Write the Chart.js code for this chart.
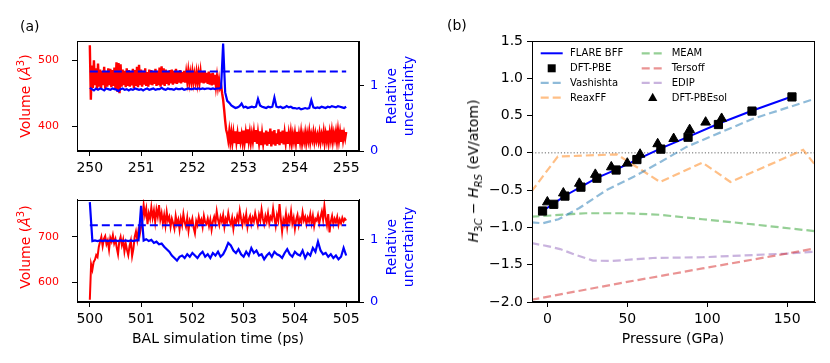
<!DOCTYPE html>
<html>
<head>
<meta charset="utf-8">
<script src="https://cdn.jsdelivr.net/npm/chart.js@4"></script>
<style>
  body { margin: 0; background: #fff; }
  #fig { position: relative; width: 830px; height: 363px; font-family: "DejaVu Sans", sans-serif; overflow: hidden; }
  canvas { position: absolute; }
  .lbl { position: absolute; white-space: nowrap; font-size: 14px; line-height: 1; }
  .rot { transform: translate(-50%, -50%) rotate(-90deg); text-align: center; }
  .mid { transform: translate(-50%, -50%); }
  sup, sub { line-height: 0; }
</style>
</head>
<body>
<div id="fig">
  <canvas id="cTop" width="420" height="180" style="left:0;top:0"></canvas>
  <canvas id="cBottom" width="420" height="183" style="left:0;top:180px"></canvas>
  <canvas id="cRight" width="410" height="363" style="left:420px;top:0"></canvas>

  <div class="lbl" style="left:20px;top:19px">(a)</div>
  <div class="lbl" style="left:447px;top:18px">(b)</div>

  <div class="lbl rot" style="left:25px;top:96px;color:#ff0000">Volume (<i>Å</i><sup style="font-size:10px">3</sup>)</div>
  <div class="lbl rot" style="left:399px;top:96px;color:#0000ff;line-height:16.5px">Relative<br>uncertainty</div>
  <div class="lbl rot" style="left:25px;top:247px;color:#ff0000">Volume (<i>Å</i><sup style="font-size:10px">3</sup>)</div>
  <div class="lbl rot" style="left:399px;top:247px;color:#0000ff;line-height:16.5px">Relative<br>uncertainty</div>
  <div class="lbl mid" style="left:218px;top:338px">BAL simulation time (ps)</div>

  <div class="lbl rot" style="left:473px;top:171px"><i>H</i><sub style="font-size:10px">3<i>C</i></sub> − <i>H</i><sub style="font-size:10px"><i>RS</i></sub> (eV/atom)</div>
  <div class="lbl mid" style="left:673px;top:338px">Pressure (GPa)</div>
</div>

<script>
const FONT = '"DejaVu Sans", sans-serif';

// ---- panel (a), top: 250-255 ps ----
const topStart = 250;
const topVolumeStep = 0.02;
const topVolume = [
  523, 440, 492, 458, 500, 462, 488, 455, 495, 460, 486, 458, 484, 462, 490, 457, 482, 460, 488, 462,
  487, 459, 485, 461, 489, 456, 497, 452, 496, 450, 494, 460, 486, 462, 484, 459, 488, 461, 485, 460,
  483, 462, 487, 458, 485, 461, 490, 459, 493, 462, 486, 460, 484, 463, 488, 461, 482, 460, 486, 463,
  485, 462, 483, 464, 487, 461, 484, 462, 489, 460, 491, 463, 488, 461, 486, 464, 483, 462, 485, 465,
  486, 463, 484, 465, 487, 464, 483, 466, 485, 465, 482, 467, 484, 466, 481, 468, 483, 467, 480, 468,
  482, 467, 479, 468, 481, 466, 480, 467, 482, 466, 483, 465, 484, 466, 481, 464, 483, 463, 480, 462,
  481, 463, 478, 461, 475, 460, 471, 458, 462, 450, 440, 425, 408, 394, 388, 378, 392, 376, 390, 375,
  389, 374, 392, 376, 388, 373, 391, 377, 387, 375, 393, 376, 389, 374, 395, 378, 390, 375, 388, 377,
  391, 376, 394, 373, 389, 375, 392, 371, 388, 374, 390, 372, 393, 370, 391, 373, 396, 369, 392, 372,
  394, 370, 389, 373, 395, 371, 391, 374, 393, 372, 389, 375, 391, 373, 388, 376, 390, 374, 387, 377,
  389, 375, 391, 373, 387, 376, 390, 374, 386, 377, 389, 375, 388, 378, 391, 376, 387, 379, 390, 377,
  388, 378, 386, 377, 389, 376, 387, 379, 391, 375, 388, 378, 393, 376, 390, 379, 392, 377, 389, 380,
  391, 377, 393, 378, 390, 376, 394, 379, 389, 381, 391
];
const topUncStep = 0.04;
const topUncertainty = [
  0.97, 0.95, 0.93, 0.96, 0.94, 0.96, 0.95, 0.93, 0.96, 0.95,
  0.94, 0.96, 0.95, 0.94, 0.92, 0.95, 0.96, 0.94, 0.95, 0.93,
  0.95, 0.94, 0.96, 0.95, 0.94, 0.95, 0.93, 0.95, 0.96, 0.94,
  0.95, 0.96, 0.94, 0.95, 0.95, 0.97, 0.95, 0.94, 0.96, 0.95,
  0.95, 0.94, 0.96, 0.95, 0.95, 0.96, 0.94, 0.95, 0.96, 0.95,
  0.95, 0.96, 0.95, 0.96, 0.95, 0.96, 0.95, 0.96, 0.96, 0.95,
  0.96, 0.95, 0.96, 0.96, 0.97, 1.65, 0.90, 0.77, 0.74, 0.70,
  0.68, 0.66, 0.67, 0.69, 0.73, 0.67, 0.68, 0.66, 0.67, 0.68,
  0.67, 0.68, 0.80, 0.70, 0.68, 0.67, 0.66, 0.68, 0.67, 0.68,
  0.82, 0.68, 0.67, 0.68, 0.66, 0.67, 0.69, 0.67, 0.68, 0.66,
  0.66, 0.65, 0.66, 0.64, 0.65, 0.66, 0.65, 0.66, 0.78, 0.67,
  0.66, 0.67, 0.66, 0.68, 0.67, 0.66, 0.68, 0.67, 0.69, 0.68,
  0.67, 0.69, 0.68, 0.67, 0.66, 0.68
];
const topThreshold = 1.22;
const topTimeTicks = [250, 251, 252, 253, 254, 255];
const topVolumeTicks = [400, 500];

// ---- panel (a), bottom: 500-505 ps ----
const bottomStart = 500;
const bottomVolumeStep = 0.025;
const bottomVolume = [
  562, 640, 628, 645, 650, 660, 656, 678, 690, 700, 680, 696, 702, 684, 692, 672, 698, 690, 704, 686,
  695, 676, 662, 690, 700, 682, 694, 668, 686, 672, 660, 680, 692, 658, 674, 700, 712, 694, 716, 706,
  722, 736, 770, 748, 762, 728, 752, 740, 765, 742, 758, 733, 760, 745, 770, 738, 752, 730, 748, 726,
  755, 736, 744, 722, 740, 730, 718, 746, 728, 738, 716, 740, 726, 750, 732, 722, 742, 714, 736, 728,
  740, 720, 708, 735, 726, 744, 730, 738, 722, 746, 732, 728, 740, 724, 738, 716, 734, 744, 730, 756,
  738, 726, 744, 734, 748, 722, 740, 732, 752, 736, 728, 742, 718, 738, 730, 746, 734, 758, 740, 726,
  744, 732, 750, 722, 738, 746, 728, 742, 734, 752, 738, 726, 748, 736, 760, 740, 728, 746, 734, 752,
  730, 744, 738, 762, 742, 724, 748, 736, 772, 740, 712, 738, 728, 750, 722, 744, 734, 756, 730, 742,
  718, 738, 748, 726, 740, 732, 754, 736, 744, 728, 742, 734, 750, 730, 746, 724, 740, 736, 748, 730,
  744, 756, 738, 768, 742, 726, 750, 710, 734, 746, 728, 740, 732, 744, 726, 738, 730, 742, 734, 740,
  736
];
const bottomUncStep = 0.05;
const bottomUncertainty = [
  1.59, 0.97, 0.98, 0.97, 0.98, 0.97, 0.98, 0.97, 0.98, 0.97,
  0.98, 0.97, 0.98, 0.97, 0.98, 0.97, 0.98, 0.97, 0.98, 0.98,
  1.53, 0.98, 1.00, 0.97, 0.99, 0.94, 0.96, 0.92, 0.93, 0.88,
  0.84, 0.80, 0.74, 0.70, 0.66, 0.72, 0.74, 0.70, 0.76, 0.72,
  0.78, 0.74, 0.70, 0.76, 0.80, 0.72, 0.76, 0.70, 0.78, 0.74,
  0.80, 0.72, 0.76, 0.84, 0.94, 0.90, 0.82, 0.78, 0.84, 0.76,
  0.72, 0.80, 0.74, 0.86, 0.78, 0.82, 0.74, 0.76, 0.68, 0.74,
  0.78, 0.72, 0.80, 0.76, 0.74, 0.70, 0.78, 0.84, 0.76, 0.72,
  0.80, 0.76, 0.74, 0.82, 0.70, 0.78, 0.74, 0.86, 0.80, 0.96,
  0.82, 0.76, 0.78, 0.72, 0.76, 0.70, 0.74, 0.68, 0.72, 0.86,
  0.74
];
const bottomThreshold = 1.22;
const bottomTimeTicks = [500, 501, 502, 503, 504, 505];
const bottomVolumeTicks = [600, 700];
const uncertaintyTicks = [0, 1];

// ---- panel (b) ----
const flareP = [-3, 4, 11, 21, 31, 43, 56, 71, 88, 107, 128, 153];
const flareH = [-0.78, -0.68, -0.575, -0.455, -0.335, -0.225, -0.09, 0.06, 0.215, 0.39, 0.565, 0.755];
const pbeP = [-3, 4, 11, 21, 31, 43, 56, 71, 88, 107, 128, 153];
const pbeH = [-0.78, -0.69, -0.58, -0.46, -0.34, -0.23, -0.09, 0.05, 0.21, 0.38, 0.56, 0.75];
const pbesolP = [0, 10, 20, 30, 40, 50, 58, 69, 79, 89, 99, 109];
const pbesolH = [-0.66, -0.54, -0.41, -0.29, -0.19, -0.14, -0.02, 0.12, 0.19, 0.31, 0.41, 0.46];
const vashP = [-10, -3, 7, 20, 37, 54, 71, 87, 109, 129, 168];
const vashH = [-0.93, -0.945, -0.89, -0.74, -0.50, -0.32, -0.12, 0.08, 0.28, 0.46, 0.73];
const reaxP = [-10, 6.5, 43.5, 70.5, 97, 114.5, 160, 167.4];
const reaxH = [-0.52, -0.05, -0.02, -0.39, -0.13, -0.39, 0.04, -0.16];
const meamP = [-10, 24, 50, 70, 97, 129, 167.4];
const meamH = [-0.857, -0.81, -0.81, -0.83, -0.89, -0.96, -1.05];
const tersoffP = [-10, 45, 97, 150, 167.4];
const tersoffH = [-1.97, -1.75, -1.55, -1.35, -1.28];
const edipP = [-10, 0, 8, 18, 28.5, 40, 66, 97, 150, 167.4];
const edipH = [-1.21, -1.25, -1.29, -1.37, -1.445, -1.45, -1.41, -1.40, -1.35, -1.325];
const pressureTicks = [0, 50, 100, 150];
const enthalpyTicks = [-2.0, -1.5, -1.0, -0.5, 0.0, 0.5, 1.0, 1.5];
const legendOrder = ['FLARE BFF', 'DFT-PBE', 'Vashishta', 'ReaxFF', 'MEAM', 'Tersoff', 'EDIP', 'DFT-PBEsol'];

// helpers
const series = (start, step, values) => values.map((v, i) => ({ x: start + i * step, y: v }));
const pairs = (xs, ys) => xs.map((x, i) => ({ x, y: ys[i] }));

function axis(o) {
  return {
    type: 'linear', position: o.pos, min: o.min, max: o.max,
    afterBuildTicks: s => { s.ticks = o.ticks.map(v => ({ value: v })); },
    afterFit: s => { if (o.pos === 'bottom') s.height = o.size; else s.width = o.size; },
    ticks: {
      color: o.color || '#000', padding: o.pad, maxRotation: 0, autoSkip: false,
      font: { family: FONT, size: o.fontSize || 14 },
      callback: o.fmt || (v => String(v))
    },
    grid: { drawOnChartArea: false, drawTicks: true, tickLength: 5, tickColor: o.tickColor || '#000', tickWidth: 1 },
    border: { display: true, color: '#000', width: 1 }
  };
}

const framePlugin = {
  id: 'frame',
  afterDraw(chart) {
    const { ctx, chartArea: a } = chart;
    ctx.save();
    ctx.strokeStyle = '#000';
    ctx.lineWidth = 1;
    ctx.strokeRect(Math.round(a.left) + 0.5, Math.round(a.top) + 0.5,
      Math.round(a.right - a.left) - 1, Math.round(a.bottom - a.top) - 1);
    ctx.restore();
  }
};

const baseOptions = (top, right) => ({
  responsive: false, animation: false, events: [],
  layout: { padding: { top: top, right: right, bottom: 0, left: 0 } },
  elements: { point: { radius: 0 }, line: { tension: 0 } },
  plugins: { legend: { display: false }, tooltip: { enabled: false } }
});

function volumePanel(id, o) {
  const xMin = o.ticks[0] - 0.25, xMax = o.ticks[o.ticks.length - 1] + 0.25;
  new Chart(document.getElementById(id), {
    type: 'line',
    data: {
      datasets: [
        { data: o.unc, yAxisID: 'y2', borderColor: '#0000ff', borderWidth: 2.2 },
        { data: [{ x: o.ticks[0], y: o.thr }, { x: xMax - 0.25, y: o.thr }], yAxisID: 'y2',
          borderColor: '#0000ff', borderWidth: 2, borderDash: [8, 4] },
        { data: o.vol, yAxisID: 'y', borderColor: '#ff0000', borderWidth: o.volWidth }
      ]
    },
    options: Object.assign(baseOptions(o.top, 0), {
      scales: {
        x: axis({ pos: 'bottom', min: xMin, max: xMax, ticks: o.ticks, size: o.xh, pad: 4 }),
        y: axis({ pos: 'left', min: o.vMin, max: o.vMax, ticks: o.vTicks, size: 77, pad: 13,
          color: '#ff0000', fontSize: 11 }),
        y2: axis({ pos: 'right', min: 0, max: o.uMax, ticks: uncertaintyTicks, size: 61, pad: 6,
          color: '#0000ff', fontSize: 13 })
      }
    }),
    plugins: [framePlugin]
  });
}

volumePanel('cTop', {
  ticks: topTimeTicks, vTicks: topVolumeTicks, vMin: 362, vMax: 529.4, uMax: 1.69,
  vol: series(topStart, topVolumeStep, topVolume),
  unc: series(topStart, topUncStep, topUncertainty),
  thr: topThreshold, top: 41, xh: 29, volWidth: 2.4
});
volumePanel('cBottom', {
  ticks: bottomTimeTicks, vTicks: bottomVolumeTicks, vMin: 557, vMax: 782, uMax: 1.63,
  vol: series(bottomStart, bottomVolumeStep, bottomVolume),
  unc: series(bottomStart, bottomUncStep, bottomUncertainty),
  thr: bottomThreshold, top: 12, xh: 61, volWidth: 2
});

// panel (b)
const pMin = -9.6, pMax = 167.4;
const dashed = (label, color, xs, ys) => ({
  label, data: pairs(xs, ys), borderColor: color, borderWidth: 2.2, borderDash: [8, 4], pointRadius: 0
});
const rightDatasets = [
  { label: 'DFT-PBE', data: pairs(pbeP, pbeH), showLine: false, pointStyle: 'rect', pointRadius: 5.8,
    backgroundColor: '#000', borderColor: '#000', borderWidth: 1 },
  { label: 'DFT-PBEsol', data: pairs(pbesolP, pbesolH), showLine: false, pointStyle: 'triangle', pointRadius: 5.6,
    backgroundColor: '#000', borderColor: '#000', borderWidth: 1 },
  { label: 'FLARE BFF', data: pairs(flareP, flareH), borderColor: '#0000ff', borderWidth: 2, pointRadius: 0 },
  dashed('Vashishta', 'rgba(31,119,180,0.5)', vashP, vashH),
  dashed('ReaxFF', 'rgba(255,127,14,0.5)', reaxP, reaxH),
  dashed('MEAM', 'rgba(44,160,44,0.5)', meamP, meamH),
  dashed('Tersoff', 'rgba(214,39,40,0.5)', tersoffP, tersoffH),
  dashed('EDIP', 'rgba(148,103,189,0.5)', edipP, edipH),
  { label: 'zero', data: [{ x: pMin, y: 0 }, { x: pMax, y: 0 }], borderColor: 'rgba(0,0,0,0.6)',
    borderWidth: 1, borderDash: [1.2, 2], pointRadius: 0 }
];

const legendPlugin = {
  id: 'twoColLegend',
  afterDraw(chart) {
    const ctx = chart.ctx;
    const colX = [120.7, 221.7], textX = [150, 251.7], rowY = [53.3, 68.3, 82.9, 97.7];
    const hLen = 22;
    ctx.save();
    ctx.font = '10px ' + FONT;
    ctx.textBaseline = 'middle';
    legendOrder.forEach((name, i) => {
      const ds = chart.data.datasets.find(d => d.label === name);
      const col = Math.floor(i / 4), row = i % 4;
      const x0 = colX[col], y = rowY[row], cx = x0 + hLen / 2;
      if (ds.showLine === false) {
        ctx.fillStyle = '#000';
        ctx.beginPath();
        if (ds.pointStyle === 'rect') {
          ctx.rect(cx - 4, y - 4, 8, 8);
        } else {
          ctx.moveTo(cx, y - 5); ctx.lineTo(cx + 4.6, y + 3.2); ctx.lineTo(cx - 4.6, y + 3.2); ctx.closePath();
        }
        ctx.fill();
      } else {
        ctx.strokeStyle = ds.borderColor;
        ctx.lineWidth = ds.borderWidth;
        ctx.setLineDash(ds.borderDash || []);
        ctx.beginPath();
        ctx.moveTo(x0, y); ctx.lineTo(x0 + hLen, y);
        ctx.stroke();
        ctx.setLineDash([]);
      }
      ctx.fillStyle = '#000';
      ctx.fillText(name, textX[col], y + 0.5);
    });
    ctx.restore();
  }
};

new Chart(document.getElementById('cRight'), {
  type: 'line',
  data: { datasets: rightDatasets },
  options: Object.assign(baseOptions(41, 15), {
    scales: {
      x: axis({ pos: 'bottom', min: pMin, max: pMax, ticks: pressureTicks, size: 61, pad: 4 }),
      y: axis({ pos: 'left', min: -2, max: 1.5, ticks: enthalpyTicks, size: 112, pad: 4,
        fmt: v => (v < 0 ? '\u2212' : '') + Math.abs(v).toFixed(1) })
    }
  }),
  plugins: [framePlugin, legendPlugin]
});
</script>
</body>
</html>
